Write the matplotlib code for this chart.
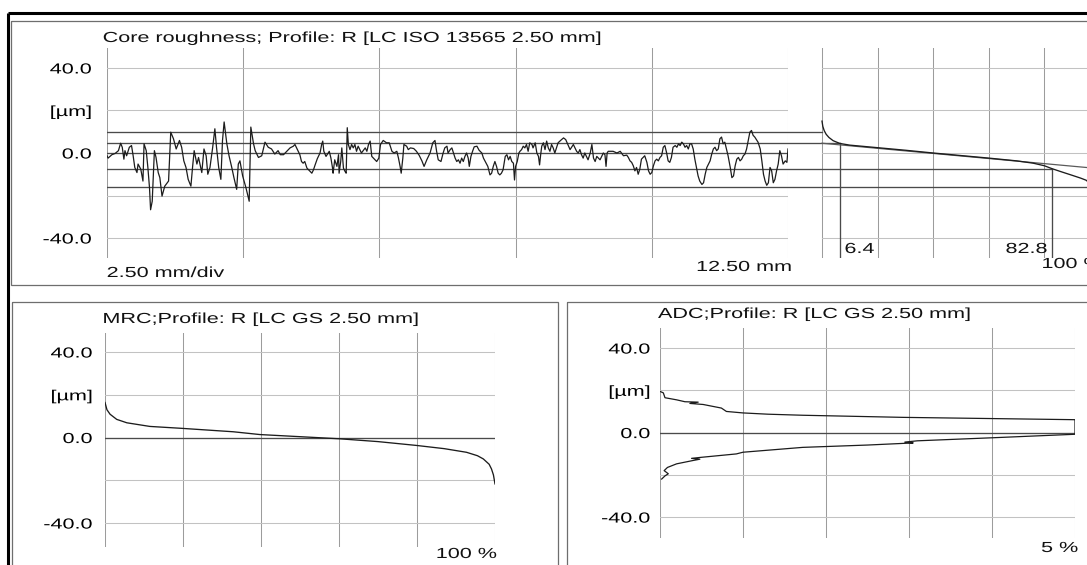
import matplotlib
matplotlib.use('Agg')
import matplotlib.pyplot as plt
from matplotlib.patches import Rectangle
from matplotlib.patheffects import AbstractPathEffect
from matplotlib.transforms import Affine2D

# profile R [LC ISO 13565 2.50 mm]: (position along trace in mm, height in um)
profile = [
    (0.00, -1.3), (0.02, -2.4), (0.09, -0.8), (0.15, -0.2), (0.21, 1.1), (0.25, 4.6), (0.28, 2.7), (0.31, -2.9),
    (0.33, 1.1), (0.36, -1.3), (0.41, 2.7), (0.45, 3.5), (0.48, -1.3), (0.51, -6.8), (0.55, -9.2), (0.57, -5.2),
    (0.62, -7.6), (0.66, -13.2), (0.68, 4.3), (0.72, 1.1), (0.75, -6.8), (0.78, -16.3), (0.80, -26.7), (0.83, -22.7),
    (0.87, 1.1), (0.90, -2.1), (0.94, -9.2), (0.97, -11.6), (1.01, -20.3), (1.06, -15.6), (1.13, -13.2), (1.17, 9.8),
    (1.22, 6.7), (1.27, 1.9), (1.33, 5.9), (1.37, 2.7), (1.41, -3.7), (1.45, -6.8), (1.49, -12.4), (1.54, -15.6),
    (1.57, -6.8), (1.60, 1.1), (1.65, -5.2), (1.68, -2.1), (1.74, -9.2), (1.78, 1.9), (1.82, -1.3), (1.85, -10.0),
    (1.89, -6.8), (1.94, 2.7), (1.98, 11.4), (2.01, 2.7), (2.05, -6.8), (2.09, -12.4), (2.12, 5.9), (2.15, 14.6),
    (2.20, 4.3), (2.24, -1.3), (2.29, -6.8), (2.33, -11.6), (2.38, -17.1), (2.41, -5.2), (2.44, -3.7), (2.49, -10.8),
    (2.55, -16.3), (2.61, -22.7), (2.64, 12.2), (2.69, 4.3), (2.72, 1.1), (2.78, -2.1), (2.84, -1.3), (2.90, 5.1),
    (2.96, 2.7), (3.02, 1.9), (3.08, -0.5), (3.14, 1.1), (3.18, -0.8), (3.24, -0.8), (3.30, 0.8), (3.36, 2.4),
    (3.42, 3.2), (3.45, 4.0), (3.48, 2.4), (3.54, -0.8), (3.57, -4.0), (3.60, -4.8), (3.63, -4.0), (3.67, -7.1),
    (3.73, -8.7), (3.76, -9.5), (3.79, -7.9), (3.82, -5.6), (3.86, -2.7), (3.91, 0.0), (3.94, 4.0), (3.96, 5.6),
    (3.98, 0.8), (4.02, -1.6), (4.04, -0.8), (4.08, 0.8), (4.11, -2.4), (4.14, -7.1), (4.15, -9.5), (4.18, -3.2),
    (4.22, -6.3), (4.25, -0.8), (4.26, -9.5), (4.29, -4.0), (4.31, 2.4), (4.34, -7.1), (4.37, -8.7), (4.39, -9.5),
    (4.41, 11.9), (4.43, 4.0), (4.46, 1.6), (4.49, 4.0), (4.52, 2.4), (4.55, 4.0), (4.58, 0.8), (4.61, 3.2),
    (4.64, 1.6), (4.67, 0.0), (4.74, 2.4), (4.77, 0.8), (4.80, 4.0), (4.83, 5.6), (4.86, -1.6), (4.90, -2.7),
    (4.95, -4.0), (4.99, -2.4), (5.02, 4.0), (5.07, 5.9), (5.13, 4.8), (5.18, 4.8), (5.23, 0.8), (5.27, 0.0),
    (5.32, 0.8), (5.35, -2.4), (5.38, -6.3), (5.40, -9.5), (5.43, -2.4), (5.45, 4.0), (5.50, 3.2), (5.53, 1.6),
    (5.57, 2.4), (5.63, 2.1), (5.68, 0.8), (5.73, -1.1), (5.78, -3.7), (5.82, -6.3), (5.87, -3.2), (5.93, 0.0),
    (5.98, 4.8), (6.02, 5.9), (6.05, 0.8), (6.08, -3.2), (6.13, -4.0), (6.17, 0.0), (6.20, 2.4), (6.24, 3.2),
    (6.26, 0.0), (6.30, 1.6), (6.33, 2.4), (6.36, 0.0), (6.39, -2.4), (6.42, -4.0), (6.45, -3.2), (6.48, -4.8),
    (6.51, -2.4), (6.54, -4.0), (6.57, -1.6), (6.60, 0.0), (6.63, -2.4), (6.65, -6.3), (6.68, -1.6), (6.71, 0.8),
    (6.74, 2.9), (6.79, 3.2), (6.83, 1.3), (6.88, 0.0), (6.91, -2.4), (6.95, -4.4), (6.99, -6.3), (7.03, -10.3),
    (7.06, -9.5), (7.09, -6.3), (7.12, -4.0), (7.15, -6.3), (7.18, -9.5), (7.21, -10.3), (7.24, -9.5), (7.27, -7.9),
    (7.31, -1.6), (7.34, -0.8), (7.37, -3.2), (7.40, -1.6), (7.43, -4.0), (7.46, -4.8), (7.48, -12.7), (7.50, -6.3),
    (7.53, -4.0), (7.56, 0.0), (7.58, 0.8), (7.61, 1.6), (7.64, 3.2), (7.67, 2.4), (7.70, 4.0), (7.73, 0.8),
    (7.76, 4.8), (7.80, 4.0), (7.82, 2.4), (7.86, 4.8), (7.89, 0.0), (7.92, -1.6), (7.94, -5.6), (7.96, -0.8),
    (7.98, 3.2), (8.01, 4.8), (8.04, 1.6), (8.07, 5.6), (8.10, 2.4), (8.13, 0.8), (8.16, 4.0), (8.19, 2.4),
    (8.22, 0.0), (8.25, 2.4), (8.28, 4.8), (8.33, 6.0), (8.38, 7.1), (8.42, 6.3), (8.46, 4.0), (8.50, 1.6),
    (8.56, 4.0), (8.59, 2.4), (8.62, 0.8), (8.65, 0.0), (8.68, 1.6), (8.71, -0.8), (8.74, -2.4), (8.77, 0.0),
    (8.80, -1.6), (8.83, -3.2), (8.87, 0.0), (8.90, 4.0), (8.93, -2.4), (8.96, -4.0), (8.99, -1.6), (9.02, -2.4),
    (9.05, -3.2), (9.08, -1.6), (9.11, 0.0), (9.14, -0.8), (9.16, -6.3), (9.18, 0.0), (9.20, 0.8), (9.25, 0.8),
    (9.29, 0.8), (9.36, 0.0), (9.42, 0.8), (9.48, -1.3), (9.54, -1.0), (9.57, -2.1), (9.60, -3.7), (9.63, -4.4),
    (9.66, -6.0), (9.69, -8.4), (9.72, -6.8), (9.75, -10.0), (9.78, -7.6), (9.81, -2.9), (9.84, -2.1), (9.87, -1.3),
    (9.91, -4.4), (9.94, -8.4), (9.97, -10.0), (10.00, -9.2), (10.03, -6.0), (10.06, -3.7), (10.09, -2.9), (10.12, -3.7),
    (10.15, -2.1), (10.18, -1.3), (10.21, 2.7), (10.24, 3.5), (10.27, 0.3), (10.30, -3.7), (10.33, -4.4), (10.36, -2.1),
    (10.39, 2.7), (10.43, 3.5), (10.46, 2.7), (10.49, 4.3), (10.52, 3.5), (10.55, 5.1), (10.58, 4.3), (10.61, 2.7),
    (10.64, 3.5), (10.67, 1.9), (10.70, 4.3), (10.73, 4.3), (10.76, 1.9), (10.79, -2.9), (10.82, -6.8), (10.85, -10.8),
    (10.88, -13.2), (10.92, -14.8), (10.95, -14.0), (10.98, -10.0), (11.01, -6.8), (11.04, -5.2), (11.07, -3.7), (11.10, -0.5),
    (11.13, 1.9), (11.16, 2.7), (11.19, 1.1), (11.22, 1.9), (11.25, 6.7), (11.28, 7.5), (11.31, 4.3), (11.34, 5.1),
    (11.37, 1.9), (11.40, -1.3), (11.44, -6.8), (11.47, -11.6), (11.50, -10.8), (11.53, -6.0), (11.56, -2.9), (11.59, -2.1),
    (11.62, -3.7), (11.65, -2.9), (11.68, -1.3), (11.71, -0.5), (11.74, 1.9), (11.77, 5.9), (11.80, 9.8), (11.83, 10.6),
    (11.86, 8.3), (11.89, 7.5), (11.93, 5.9), (11.95, 5.1), (11.99, 1.9), (12.02, -3.7), (12.05, -10.0), (12.08, -13.2),
    (12.11, -15.2), (12.14, -14.0), (12.17, -6.8), (12.20, -8.4), (12.23, -14.0), (12.26, -12.4), (12.29, -8.4), (12.32, -5.2),
    (12.35, 1.1), (12.38, -1.3), (12.41, -5.2), (12.45, -3.7), (12.48, -4.4), (12.50, 1.9),
]

# core roughness construction (um / %)
rpk_level = 9.7
core_top = 4.6
core_bottom = -7.4
rvk_level = -15.8
mr1 = 6.4
mr2 = 82.8

# material ratio curve next to the profile: (%, um)
mrc_core = [
    (0, 15.0), (0.3, 12.5), (0.8, 10.5), (1.5, 8.8), (2.5, 7.3), (4, 5.8), (6.4, 4.5), (10, 3.7),
    (20, 2.5), (30, 1.3), (40, 0.0), (50, -1.2), (60, -2.4), (70, -3.7), (76, -4.8), (80, -6.0),
    (82.8, -7.4), (86, -8.8), (90, -10.5), (93, -11.8), (95, -12.8), (97, -15.0), (98.5, -18.5), (100, -26.7),
]

# MRC; Profile R [LC GS 2.50 mm]: (%, um)
mrc_gs = [
    (0, 16.4), (0.5, 13.0), (1.3, 10.9), (3, 8.5), (5.6, 6.9), (11.5, 5.2), (19.7, 4.3), (32.9, 2.7),
    (39.7, 1.4), (50, 0.4), (60.3, -0.6), (70, -1.9), (79.9, -3.7), (87, -5.2), (92.7, -6.9), (95.5, -8.5),
    (97, -10.0), (98.5, -12.5), (99.1, -14.7), (99.6, -17.5), (100, -21.7),
]

# ADC; Profile R [LC GS 2.50 mm]: (%, um)
adc = [
    (0.0, 19.5), (0.04, 18.8), (0.06, 16.5), (0.2, 15.5), (0.30, 14.6), (0.46, 14.4), (0.36, 13.8), (0.52, 13.3),
    (0.74, 11.6), (0.8, 10.0), (1.0, 9.3), (1.3, 8.7), (1.72, 8.2), (2.93, 7.2), (5.0, 6.1),
    (5.0, -0.8), (4.1, -2.3), (3.1, -3.9), (2.95, -4.5), (3.05, -4.9), (2.5, -5.9), (1.72, -7.0), (1.0, -9.3),
    (0.92, -10.1), (0.5, -11.7), (0.38, -12.2), (0.48, -12.6), (0.4, -13.2), (0.2, -14.8), (0.09, -16.5),
    (0.05, -18.0), (0.1, -19.5), (0.06, -20.5), (0.02, -22.0),
]

y_ticks = [-40, -20, 0, 20, 40]
y_labels = ['-40.0', '', '0.0', '[µm]', '40.0']
grid_h = [-40, -20, 20, 40]

W, H = 1087, 565
FS = 10.5
GRID_V = '#9c9c9c'
GRID_H = '#c2c2c2'
LINE = '#4a4a4a'
TRACE = '#1c1c1c'

plt.rcParams['font.family'] = ['Liberation Sans', 'DejaVu Sans']


class Widen(AbstractPathEffect):
    # the printout was scanned wider than tall, so letters get pulled sideways
    def __init__(self, sx=1.48, anchor='left'):
        super().__init__()
        self.sx = sx
        self.anchor = anchor

    def draw_path(self, renderer, gc, tpath, affine, rgbFace=None):
        ext = tpath.get_extents()
        x0 = ext.x1 if self.anchor == 'right' else ext.x0
        stretch = Affine2D().translate(-x0, 0).scale(self.sx, 1).translate(x0, 0)
        renderer.draw_path(gc, tpath, stretch + affine, rgbFace)


def rect(x0, y0, x1, y1):
    # pixel box (top-left origin) -> figure fraction
    return [x0 / W, 1 - y1 / H, (x1 - x0) / W, (y1 - y0) / H]


def setup(ax, xlim, ylim, xgrid, pad=None):
    ax.set_xlim(*xlim)
    ax.set_ylim(*ylim)
    ax.patch.set_alpha(0)
    for s in ax.spines.values():
        s.set_visible(False)
    ax.set_xticks([])
    if pad is None:
        ax.set_yticks([])
    else:
        ax.set_yticks(y_ticks, y_labels)
        ax.tick_params(axis='y', length=0, pad=pad, labelsize=FS)
        for lab in ax.get_yticklabels():
            lab.set_path_effects([Widen(anchor='right')])
    for v in xgrid:
        ax.axvline(v, color=GRID_V, lw=0.75, zorder=1)
    for t in grid_h:
        ax.plot([xgrid[0], xgrid[-1]], [t, t], color=GRID_H, lw=0.75, zorder=1)


fig = plt.figure(figsize=(W / 100, H / 100), dpi=100)

# page frame and panel boxes, drawn in pixel units
bg = fig.add_axes([0, 0, 1, 1])
bg.set_xlim(0, W)
bg.set_ylim(H, 0)
bg.axis('off')
bg.add_patch(Rectangle((11, 21), 1090, 264, fill=False, ec='#6e6e6e', lw=0.9))
bg.add_patch(Rectangle((12, 302), 546, 275, fill=False, ec='#6e6e6e', lw=0.9))
bg.add_patch(Rectangle((567, 302), 540, 275, fill=False, ec='#6e6e6e', lw=0.9))
bg.plot([8, W + 5], [13, 13], color='black', lw=2.2, solid_capstyle='butt')
bg.plot([8, 8], [13, H + 5], color='black', lw=2.2, solid_capstyle='butt')

txt = dict(fontsize=FS, va='baseline', color='#111111')
bg.text(103, 42, 'Core roughness; Profile: R [LC ISO 13565 2.50 mm]', path_effects=[Widen()], **txt)
bg.text(107, 277, '2.50 mm/div', path_effects=[Widen()], **txt)
bg.text(792, 271, '12.50 mm', ha='right', path_effects=[Widen(anchor='right')], **txt)
bg.text(1042, 268, '100 %', path_effects=[Widen()], **txt)
bg.text(103, 323, 'MRC;Profile: R [LC GS 2.50 mm]', path_effects=[Widen()], **txt)
bg.text(497, 558, '100 %', ha='right', path_effects=[Widen(anchor='right')], **txt)
bg.text(658, 318, 'ADC;Profile: R [LC GS 2.50 mm]', path_effects=[Widen()], **txt)
bg.text(1078, 552, '5 %', ha='right', path_effects=[Widen(anchor='right')], **txt)

# --- profile with core roughness lines
px = [p[0] for p in profile]
pz = [p[1] for p in profile]
ax_p = fig.add_axes(rect(107, 48, 788, 258))
setup(ax_p, (0, 12.5), (-49.4, 49.4), [0, 2.5, 5, 7.5, 10, 12.5], pad=11)
for lvl in (rpk_level, core_top, 0, core_bottom, rvk_level):
    ax_p.plot([0, 12.5], [lvl, lvl], color=LINE, lw=0.95, zorder=2)
ax_p.plot(px, pz, color=TRACE, lw=0.9, zorder=3)

# --- material ratio curve to the right of the profile
gap = (822 - 788) / (1100 - 822) * 100
ax_c = fig.add_axes(rect(788, 48, 1100, 258))
setup(ax_c, (-gap, 100), (-49.4, 49.4), [0, 20, 40, 60, 80, 100])
ax_c.plot([0, 100], [0, 0], color=GRID_H, lw=0.75, zorder=1)
ax_c.plot([-gap, 0], [rpk_level, rpk_level], color=LINE, lw=0.95)
ax_c.plot([-gap, mr1], [core_top, core_top], color=LINE, lw=0.95)
ax_c.plot([-gap, mr2], [core_bottom, core_bottom], color=LINE, lw=0.95)
ax_c.plot([-gap, 100], [rvk_level, rvk_level], color=LINE, lw=0.95)
ax_c.plot([mr1, mr1], [core_top, -49.4], color=LINE, lw=0.95)
ax_c.plot([mr2, mr2], [core_bottom, -49.4], color=LINE, lw=0.95)
ax_c.plot([0, 100], [core_top, core_bottom], color='#5a5a5a', lw=0.9)
ax_c.plot([m[0] for m in mrc_core], [m[1] for m in mrc_core], color=TRACE, lw=0.95)
ax_c.annotate(f'{mr1}', xy=(mr1, -49.4), xytext=(5, 5), textcoords='offset pixels',
              annotation_clip=False, path_effects=[Widen()], **txt)
ax_c.annotate(f'{mr2}', xy=(mr2, -49.4), xytext=(-5, 5), textcoords='offset pixels', ha='right',
              annotation_clip=False, path_effects=[Widen(anchor='right')], **txt)

# --- MRC panel
ax_m = fig.add_axes(rect(105, 333, 495, 547))
setup(ax_m, (0, 100), (-51.2, 48.9), [0, 20, 40, 60, 80, 100], pad=9)
ax_m.plot([0, 100], [0, 0], color=LINE, lw=0.95)
ax_m.plot([m[0] for m in mrc_gs], [m[1] for m in mrc_gs], color=TRACE, lw=0.95)

# --- ADC panel
ax_a = fig.add_axes(rect(660, 328, 1075, 538))
setup(ax_a, (0, 5), (-49.9, 49.5), [0, 1, 2, 3, 4, 5], pad=7)
ax_a.plot([0, 5], [0, 0], color=LINE, lw=0.95)
ax_a.plot([a[0] for a in adc], [a[1] for a in adc], color=TRACE, lw=0.9)

fig.savefig('out.png', dpi=100)
